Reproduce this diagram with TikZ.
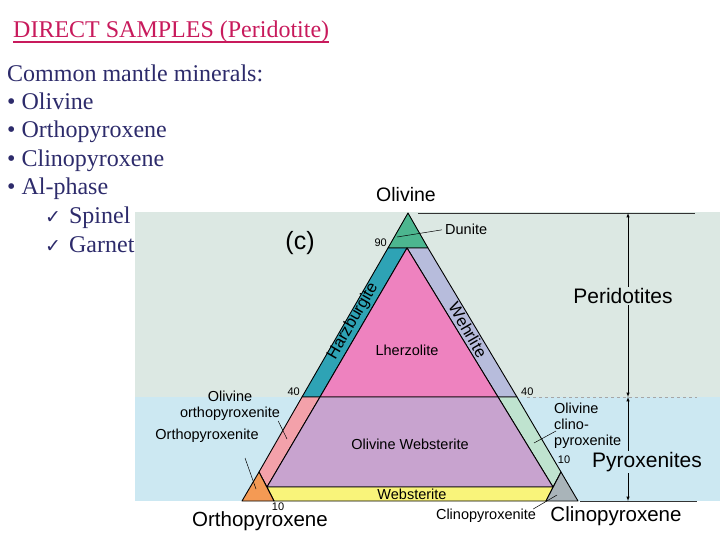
\documentclass[tikz,border=0pt]{standalone}
\usepackage{fontspec}
\setmainfont{Liberation Serif}
\newfontfamily\labfont{Liberation Sans}
\newfontfamily\symfont{DejaVu Sans}
\usetikzlibrary{arrows.meta}

\definecolor{navytext}{HTML}{2D2B6B}
\definecolor{titlered}{HTML}{C81A5C}
\definecolor{peridbg}{HTML}{DCE8E3}
\definecolor{pyroxbg}{HTML}{CCE8F2}
\definecolor{dunitecol}{HTML}{4CB68F}
\definecolor{harzcol}{HTML}{2EA3B5}
\definecolor{wehrcol}{HTML}{B7BCDC}
\definecolor{lherzcol}{HTML}{EE82BF}
\definecolor{olwebcol}{HTML}{C8A3CF}
\definecolor{olopxcol}{HTML}{F3A1AA}
\definecolor{olcpxcol}{HTML}{BFE3CF}
\definecolor{opxcol}{HTML}{F49A54}
\definecolor{cpxcol}{HTML}{A9B4B9}
\definecolor{webcol}{HTML}{F9F47A}

\tikzset{
  slide/.style={anchor=base west, inner sep=0, text=navytext,
    font=\fontsize{24}{24}\selectfont},
  lab/.style={inner sep=0, font=\labfont\fontsize{14.5}{16}\selectfont},
  edgelab/.style={inner sep=0, font=\labfont\fontsize{16.5}{16.5}\selectfont},
  biglab/.style={inner sep=0, font=\labfont\fontsize{20.5}{20.5}\selectfont},
  numlab/.style={inner sep=0, font=\labfont\fontsize{11}{11}\selectfont},
  field/.style={draw=black, line width=0.9pt, line join=round},
  leader/.style={draw=black, line width=0.5pt},
}

\begin{document}
\begin{tikzpicture}[x=1pt,y=-1pt]
    \useasboundingbox (0,0) rectangle (720,540);

    % slide text
    \node[slide, text=titlered] (title) at (13,38) {DIRECT SAMPLES (Peridotite)};
    \draw[titlered, line width=1.2pt] ([yshift=-4pt]title.base west) -- ([yshift=-4pt]title.base east);
    \node[slide] (intro) at (7,82) {Common mantle minerals:};
    \node[slide] (min1) at (7,110) {• Olivine};
    \node[slide] (min2) at (7,138) {• Orthopyroxene};
    \node[slide] (min3) at (7,167) {• Clinopyroxene};
    \node[slide] (min4) at (7,195) {• Al-phase};
    \node[slide] (al1) at (45,223) {{\symfont\fontsize{19}{19}\selectfont ✓}\hspace{8pt}Spinel};
    \node[slide] (al2) at (45,252) {{\symfont\fontsize{19}{19}\selectfont ✓}\hspace{8pt}Garnet};

    % background panels
    \fill[peridbg] (135,212) rectangle (720,397);
    \fill[pyroxbg] (135,397) rectangle (720,501);

    % triangle corners and field boundaries
    \coordinate (ol) at (408,213);
    \coordinate (opx) at (242,501);
    \coordinate (cpx) at (578,501);
    \coordinate (d1) at (388,248);
    \coordinate (d2) at (428,248);
    \coordinate (lz) at (407,248);
    \coordinate (a1) at (302,397);
    \coordinate (a2) at (320,397);
    \coordinate (a3) at (498,397);
    \coordinate (a4) at (517,397);
    \coordinate (b1) at (267,487);
    \coordinate (b2) at (553,487);
    \coordinate (o1) at (259,472);
    \coordinate (o2) at (274,501);
    \coordinate (c1) at (561,472);
    \coordinate (c2) at (546,501);

    \filldraw[field, fill=dunitecol] (ol) -- (d1) -- (d2) -- cycle;
    \filldraw[field, fill=harzcol] (d1) -- (lz) -- (a2) -- (a1) -- cycle;
    \filldraw[field, fill=wehrcol] (lz) -- (d2) -- (a4) -- (a3) -- cycle;
    \filldraw[field, fill=lherzcol] (lz) -- (a3) -- (a2) -- cycle;
    \filldraw[field, fill=olopxcol] (a1) -- (a2) -- (b1) -- (o1) -- cycle;
    \filldraw[field, fill=olcpxcol] (a3) -- (a4) -- (c1) -- (b2) -- cycle;
    \filldraw[field, fill=olwebcol] (a2) -- (a3) -- (b2) -- (b1) -- cycle;
    \filldraw[field, fill=webcol] (b1) -- (b2) -- (c2) -- (o2) -- cycle;
    \filldraw[field, fill=opxcol] (opx) -- (o1) -- (o2) -- cycle;
    \filldraw[field, fill=cpxcol] (cpx) -- (c2) -- (c1) -- cycle;

    % group brackets on the right
    \coordinate (topend) at (695,213);
    \coordinate (dashend) at (697,397);
    \coordinate (baseend) at (697,501);
    \draw[line width=0.6pt, black!80] (418,213) -- (topend);
    \draw[dashed, line width=0.9pt, black!35] (527,397) -- (dashend);
    \draw[line width=0.6pt, black!80] (580,501) -- (baseend);
    \draw[latex-latex, line width=0.5pt] (628,213) -- (628,397);
    \draw[latex-latex, line width=0.5pt] (628,397) -- (628,501);
    \node[inner sep=1pt, fill=peridbg, font=\labfont\fontsize{21}{21}\selectfont] (perid) at (623,296) {Peridotites};
    \node[inner sep=1pt, fill=pyroxbg, font=\labfont\fontsize{21}{21}\selectfont] (pyrox) at (647,462) {Pyroxenites};

    % corner and field labels
    \node[biglab, font=\labfont\fontsize{19.5}{19.5}\selectfont] (olv) at (406,195) {Olivine};
    \node[biglab] (opxname) at (260,521) {Orthopyroxene};
    \node[biglab] (cpxname) at (616,516) {Clinopyroxene};
    \node[inner sep=0, font=\labfont\fontsize{25}{25}\selectfont] (panel) at (300,243) {(c)};

    \node[lab, anchor=base west] (dunite) at (445,235) {Dunite};
    \coordinate (dunpt) at (397,237);
    \draw[leader] ([xshift=-3pt]dunite.west) -- (dunpt);

    \node[edgelab, rotate=60] (harz) at (353,321) {Harzburgite};
    \node[edgelab, rotate=-60] (wehr) at (468,330) {Wehrlite};
    \node[lab] (lherz) at (407,350) {Lherzolite};
    \node[lab] (olweb) at (410,444) {Olivine Websterite};
    \node[lab] (web) at (412,494) {Websterite};

    \node[lab, align=center] (olopx) at (230,406) {Olivine\\orthopyroxenite};
    \coordinate (olopxpt) at (287,439);
    \draw[leader] ([xshift=-2pt]olopx.south east) -- (olopxpt);

    \node[lab] (opxite) at (207,436) {Orthopyroxenite};
    \coordinate (opxa) at (245,458);
    \coordinate (opxb) at (256,489);
    \draw[leader] (opxa) -- (opxb);

    \node[lab, align=left, anchor=west] (olcpx) at (554,426) {Olivine\\clino-\\pyroxenite};
    \coordinate (olcpxa) at (556,431);
    \coordinate (olcpxb) at (534,443);
    \draw[leader] (olcpxa) -- (olcpxb);

    \node[lab] (cpxite) at (486,516) {Clinopyroxenite};
    \coordinate (cpxpt) at (557,495);
    \draw[leader] ([xshift=-3pt]cpxite.north east) -- (cpxpt);

    % percentage ticks
    \node[numlab, anchor=base east] (n90) at (387,247) {90};
    \node[numlab, anchor=base east] (n40l) at (300,395) {40};
    \node[numlab, anchor=base west] (n40r) at (521,395) {40};
    \node[numlab] (n10l) at (278,507) {10};
    \node[numlab] (n10r) at (564,460) {10};

\end{tikzpicture}
\end{document}
